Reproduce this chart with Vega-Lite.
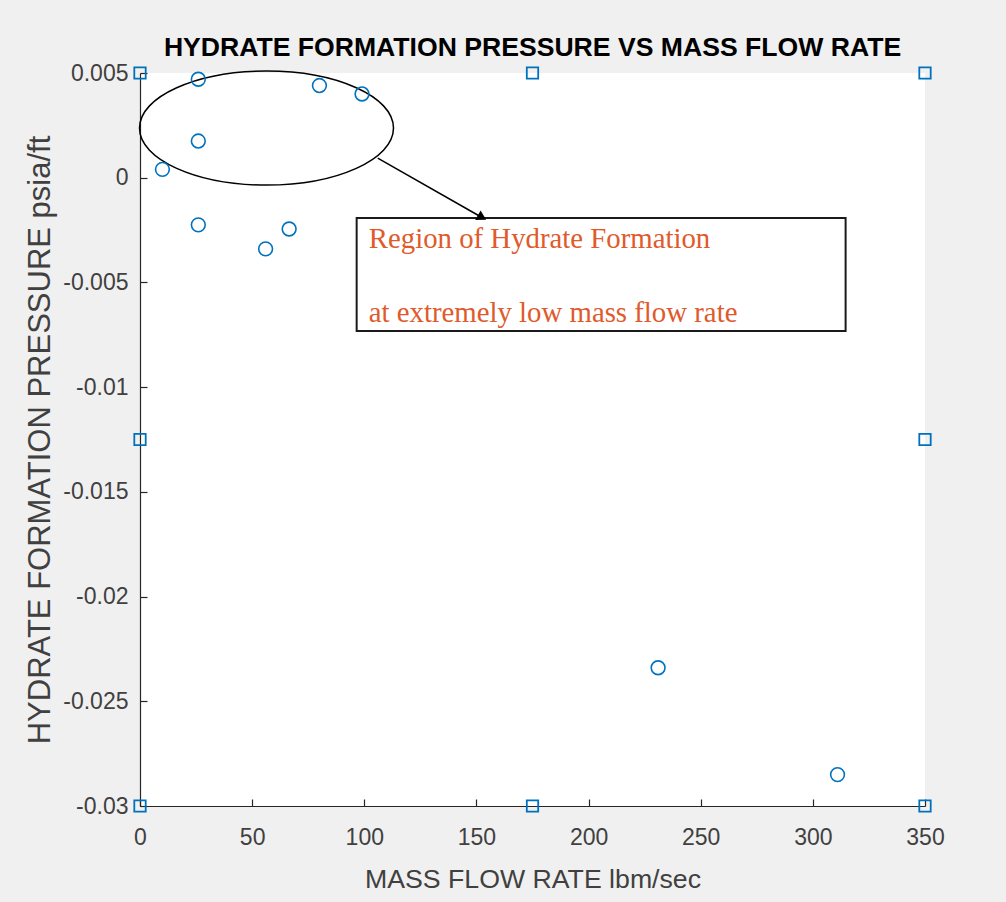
{
  "$schema": "https://vega.github.io/schema/vega-lite/v6.json",
  "autosize": "none",
  "width": 785,
  "height": 733,
  "padding": {"left": 140, "top": 73, "right": 81, "bottom": 96},
  "background": "#f0f0f0",
  "view": {"fill": "white", "stroke": null},
  "title": {
    "text": "HYDRATE FORMATION PRESSURE VS MASS FLOW RATE",
    "fontSize": 26.6,
    "fontWeight": "bold",
    "font": "Liberation Sans",
    "color": "black",
    "anchor": "middle",
    "offset": 0
  },
  "datasets": {
    "circles": [
      {"rate": 10, "pressure": 0.0004},
      {"rate": 26, "pressure": 0.0047},
      {"rate": 26, "pressure": 0.00175},
      {"rate": 26, "pressure": -0.00225},
      {"rate": 56, "pressure": -0.0034},
      {"rate": 66.5, "pressure": -0.00245},
      {"rate": 80, "pressure": 0.0044},
      {"rate": 99, "pressure": 0.004},
      {"rate": 231, "pressure": -0.0234},
      {"rate": 311, "pressure": -0.0285}
    ],
    "squares": [
      {"rate": 0, "pressure": 0.005},
      {"rate": 0, "pressure": -0.0125},
      {"rate": 0, "pressure": -0.03},
      {"rate": 175, "pressure": 0.005},
      {"rate": 175, "pressure": -0.03},
      {"rate": 350, "pressure": 0.005},
      {"rate": 350, "pressure": -0.0125},
      {"rate": 350, "pressure": -0.03}
    ],
    "ellipse": [{"rate": 56.4, "pressure": 0.00237}],
    "arrow": [{"rate": 106, "pressure": 0.00094, "rate2": 152.5, "pressure2": -0.0019}],
    "box": [{"rate": 96.6, "pressure": -0.00192, "rate2": 314.6, "pressure2": -0.00732}],
    "labels": [
      {"rate": 102, "pressure": -0.00293, "label": "Region of Hydrate Formation"},
      {"rate": 102, "pressure": -0.00646, "label": "at extremely low mass flow rate"}
    ]
  },
  "layer": [
    {
      "data": {"name": "box"},
      "mark": {"type": "rect", "fill": "white", "stroke": "#1a1a1a", "strokeWidth": 2},
      "encoding": {
        "x": {"field": "rate", "type": "quantitative", "scale": {"domain": [0, 350], "nice": false, "zero": false},
          "axis": {"title": "MASS FLOW RATE lbm/sec", "values": [0, 50, 100, 150, 200, 250, 300, 350], "titlePadding": 17, "labelPadding": 27}},
        "x2": {"field": "rate2"},
        "y": {"field": "pressure", "type": "quantitative", "scale": {"domain": [-0.03, 0.005], "nice": false, "zero": false},
          "axis": {"title": "HYDRATE FORMATION PRESSURE psia/ft", "values": [0.005, 0, -0.005, -0.01, -0.015, -0.02, -0.025, -0.03], "labelExpr": "toString(datum.value)", "titlePadding": 6, "titleFontSize": 31}},
        "y2": {"field": "pressure2"}
      }
    },
    {
      "data": {"name": "labels"},
      "mark": {"type": "text", "align": "left", "baseline": "middle", "font": "Liberation Serif", "fontSize": 28.8, "color": "#e05a2b"},
      "encoding": {
        "x": {"field": "rate", "type": "quantitative"},
        "y": {"field": "pressure", "type": "quantitative"},
        "text": {"field": "label"}
      }
    },
    {
      "data": {"name": "ellipse"},
      "mark": {"type": "point", "shape": "M -1 0 A 1 0.449 0 1 1 1 0 A 1 0.449 0 1 1 -1 0 Z", "size": 64516, "filled": false, "stroke": "black", "strokeWidth": 1.5, "opacity": 1},
      "encoding": {
        "x": {"field": "rate", "type": "quantitative"},
        "y": {"field": "pressure", "type": "quantitative"}
      }
    },
    {
      "data": {"name": "arrow"},
      "mark": {"type": "rule", "color": "black", "strokeWidth": 1.5},
      "encoding": {
        "x": {"field": "rate", "type": "quantitative"},
        "y": {"field": "pressure", "type": "quantitative"},
        "x2": {"field": "rate2"},
        "y2": {"field": "pressure2"}
      }
    },
    {
      "data": {"name": "arrow"},
      "mark": {"type": "point", "shape": "triangle-right", "filled": true, "color": "black", "size": 120, "angle": 29.5, "opacity": 1},
      "encoding": {
        "x": {"field": "rate2", "type": "quantitative"},
        "y": {"field": "pressure2", "type": "quantitative"}
      }
    },
    {
      "data": {"name": "circles"},
      "mark": {"type": "point", "shape": "circle", "filled": false, "stroke": "#0072BD", "strokeWidth": 1.6, "size": 190, "opacity": 1},
      "encoding": {
        "x": {"field": "rate", "type": "quantitative"},
        "y": {"field": "pressure", "type": "quantitative"}
      }
    },
    {
      "data": {"name": "squares"},
      "mark": {"type": "point", "shape": "square", "filled": false, "stroke": "#0072BD", "strokeWidth": 1.8, "size": 130, "opacity": 1, "clip": false},
      "encoding": {
        "x": {"field": "rate", "type": "quantitative"},
        "y": {"field": "pressure", "type": "quantitative"}
      }
    }
  ],
  "config": {
    "axis": {
      "grid": false,
      "ticks": true,
      "domainColor": "#262626",
      "domainWidth": 1.2,
      "tickColor": "#262626",
      "tickSize": -7,
      "tickWidth": 1.2,
      "labelFont": "Liberation Sans",
      "labelFontSize": 23,
      "labelColor": "#404040",
      "labelPadding": 19,
      "titleFont": "Liberation Sans",
      "titleFontSize": 26.7,
      "titleFontWeight": "normal",
      "titleColor": "#404040"
    },
    "axisX": {"labelFlush": false},
    "axisY": {"labelFlush": false}
  }
}
